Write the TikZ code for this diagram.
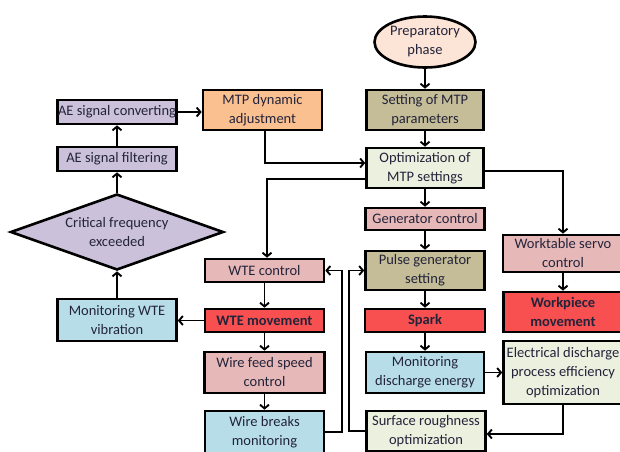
\documentclass[tikz,border=0pt]{standalone}
\usepackage{fontspec}
\setmainfont{Carlito}
\usetikzlibrary{arrows.meta,shapes.geometric}
\definecolor{txt}{HTML}{23233A}
\definecolor{cpeach}{HTML}{FCE4D6}
\definecolor{ctan}{HTML}{C4BD97}
\definecolor{cgreen}{HTML}{EBF0DF}
\definecolor{cpink}{HTML}{E6B9B8}
\definecolor{cred}{HTML}{F85050}
\definecolor{cblue}{HTML}{B7DEE8}
\definecolor{cpurple}{HTML}{CCC1DA}
\definecolor{corange}{HTML}{FAC090}
\begin{document}
\begin{tikzpicture}[x=1pt,y=-1pt,
  box/.style={draw=black, line width=2.6pt, rectangle, inner sep=0pt, align=center, text=txt,
    font=\fontsize{14.5}{19}\selectfont},
  redbox/.style={box, fill=cred, font=\fontsize{14.5}{19}\selectfont\bfseries},
  arr/.style={draw=black, line width=1.9pt, -{Straight Barb[length=3.8pt,width=9pt]}},
  ln/.style={draw=black, line width=1.9pt}
]
\useasboundingbox (0,0) rectangle (620,451);
\clip (0,0) rectangle (620,451);
\fill[white] (0,0) rectangle (620,451);

% left column
\node[box, fill=cpurple, minimum width=119, minimum height=24] (aeconv) at (117,112) {AE signal converting};
\node[box, fill=cpurple, minimum width=119, minimum height=24] (aefilt) at (117,159) {AE signal filtering};
\node[box, fill=corange, minimum width=119, minimum height=40] (mtpdyn) at (262.5,110) {MTP dynamic\\adjustment};
\node[box, diamond, aspect=2.75, fill=cpurple, minimum width=213, minimum height=76] (crit) at (117,232) {Critical frequency\\exceeded};
\node[box, fill=cblue, minimum width=119, minimum height=42] (monwte) at (117,320) {Monitoring WTE\\vibration};

% second column
\node[box, fill=cpink, minimum width=119, minimum height=23] (wtectrl) at (264.5,270.5) {WTE control};
\node[redbox, minimum width=119, minimum height=23] (wtemov) at (264.5,320.5) {WTE movement};
\node[box, fill=cpink, minimum width=120, minimum height=41] (wirefeed) at (264.5,372.5) {Wire feed speed\\control};
\node[box, fill=cblue, minimum width=119, minimum height=42] (wirebr) at (264.5,432) {Wire breaks\\monitoring};

% middle column
\node[box, ellipse, fill=cpeach, minimum width=101, minimum height=51] (prep) at (425,42) {Preparatory\\phase};
\node[box, fill=ctan, minimum width=117, minimum height=40] (setting) at (425,110) {Setting of MTP\\parameters};
\node[box, fill=cgreen, minimum width=117, minimum height=40] (optim) at (425,168) {Optimization of\\MTP settings};
\node[box, fill=cpink, minimum width=119, minimum height=22] (genctrl) at (425,219) {Generator control};
\node[box, fill=ctan, minimum width=119, minimum height=39] (pulse) at (425,270.5) {Pulse generator\\setting};
\node[redbox, minimum width=120, minimum height=23] (spark) at (425,320.5) {Spark};
\node[box, fill=cblue, minimum width=118, minimum height=41] (mondis) at (425,372.5) {Monitoring\\discharge energy};
\node[box, fill=cgreen, minimum width=119, minimum height=40] (surf) at (426,431) {Surface roughness\\optimization};

% right column
\node[box, fill=cpink, minimum width=120, minimum height=37] (worktab) at (563,253.5) {Worktable servo\\control};
\node[redbox, minimum width=119, minimum height=40] (workpc) at (563,312) {Workpiece\\movement};
\node[box, fill=cgreen, minimum width=119, minimum height=63] (elec) at (563,372.5) {Electrical discharge\\process efficiency\\optimization};

% connectors
\draw[arr] (prep) -- (setting);
\draw[arr] (setting) -- (optim);
\draw[arr] (optim) -- (genctrl);
\draw[arr] (genctrl) -- (pulse);
\draw[arr] (pulse) -- (spark);
\draw[arr] (spark) -- (mondis);
\draw[arr] (mondis.east) -- (mondis.east -| elec.west);
\draw[arr] (elec.south) |- ([yshift=-3pt]surf.east);
\draw[arr] (surf.west) -- ++(-16,0) |- (pulse.west);
\draw[arr] (wirebr.east) -- ++(17,0) |- (wtectrl.east);
\draw[arr] ([yshift=-11pt]optim.west) -| ([xshift=2.5pt]wtectrl.north);
\draw[arr] ([xshift=2.5pt]mtpdyn.south) |- ([yshift=5pt]optim.west);
\draw[arr] ([yshift=-3pt]optim.east) -| (worktab.north);
\draw[arr] (worktab) -- (workpc);
\draw[arr] (wtectrl) -- (wtemov);
\draw[arr] (wtemov.west) -- (wtemov.west -| monwte.east);
\draw[arr] (wtemov) -- (wirefeed);
\draw[arr] (wirefeed) -- (wirebr);
\draw[arr] (monwte) -- (crit);
\draw[arr] (crit.north) -- (aefilt.south);
\draw[arr] (aefilt) -- (aeconv);
\draw[arr] (aeconv.east) -- (aeconv.east -| mtpdyn.west);
\end{tikzpicture}
\end{document}
